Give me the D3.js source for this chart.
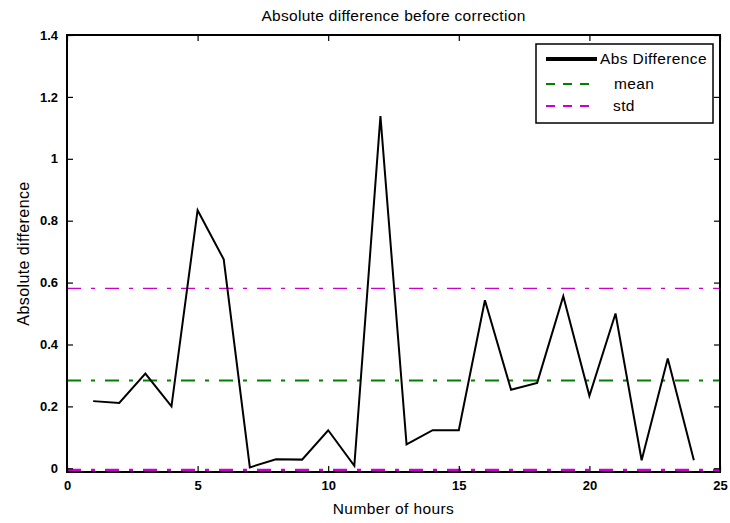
<!DOCTYPE html>
<html>
<head>
<meta charset="utf-8">
<script src="https://cdnjs.cloudflare.com/ajax/libs/d3/7.8.5/d3.min.js"></script>
<style>
  body { margin: 0; background: #fff; }
  text { font-family: "Liberation Sans", Arial, sans-serif; }
</style>
</head>
<body>
<svg id="chart" width="730" height="523"></svg>
<script>
// data
const hours = [1,2,3,4,5,6,7,8,9,10,11,12,13,14,15,16,17,18,19,20,21,22,23,24];
const absDiff = [0.217,0.211,0.306,0.20,0.834,0.675,0.003,0.029,0.028,0.123,0.008,1.138,
                 0.077,0.123,0.123,0.543,0.254,0.276,0.556,0.234,0.50,0.026,0.355,0.026];
const meanVal = 0.284;
const stdVal = 0.581;
const lowLine = -0.006;
const xTicks = [0,5,10,15,20,25];
const yTicks = [0,0.2,0.4,0.6,0.8,1,1.2,1.4];
const legendItems = [
    {label: "Abs Difference", color: "#000", dash: null, w: 4, tx: 600},
    {label: "mean", color: "#008000", dash: "9,8", w: 2, tx: 614},
    {label: "std", color: "#cc00cc", dash: "9,8", w: 2, tx: 613}
];

const svg = d3.select("#chart");
const L = 67, R = 720, T = 35, B = 472;
const labelFont = 15.5;

const x = d3.scaleLinear().domain([0, 25]).range([L, R]);
const y = d3.scaleLinear().domain([-0.012, 1.4]).range([B, T]);

svg.append("defs").append("clipPath").attr("id", "clip")
    .append("rect").attr("x", L).attr("y", T).attr("width", R - L).attr("height", B - T + 1);

const plot = svg.append("g").attr("clip-path", "url(#clip)");

// horizontal reference lines
plot.append("line")
    .attr("x1", L).attr("x2", R)
    .attr("y1", y(stdVal)).attr("y2", y(stdVal))
    .attr("stroke", "#cc00cc").attr("stroke-width", 1.2)
    .attr("stroke-dasharray", "14,10,4,10");

plot.append("line")
    .attr("x1", L).attr("x2", R)
    .attr("y1", y(meanVal)).attr("y2", y(meanVal))
    .attr("stroke", "#008000").attr("stroke-width", 2)
    .attr("stroke-dasharray", "14,10,4,10");

plot.append("line")
    .attr("x1", L).attr("x2", R)
    .attr("y1", y(lowLine)).attr("y2", y(lowLine))
    .attr("stroke", "#cc00cc").attr("stroke-width", 3)
    .attr("stroke-dasharray", "14,10,4,10");

// abs difference line
const line = d3.line()
    .x((d, i) => x(hours[i]))
    .y(d => y(d));

plot.append("path")
    .datum(absDiff)
    .attr("fill", "none")
    .attr("stroke", "#000")
    .attr("stroke-width", 2)
    .attr("d", line);

// axes (ticks pointing inward, MATLAB style)
const xAxis = svg.append("g").attr("transform", `translate(0,${B})`)
    .call(d3.axisBottom(x).tickValues(xTicks).tickFormat(d3.format("d")).tickSizeInner(-6).tickSizeOuter(0).tickPadding(9));
const xTop = svg.append("g").attr("transform", `translate(0,${T})`)
    .call(d3.axisTop(x).tickValues(xTicks).tickFormat("").tickSizeInner(-6).tickSizeOuter(0));
const yAxis = svg.append("g").attr("transform", `translate(${L},0)`)
    .call(d3.axisLeft(y).tickValues(yTicks).tickFormat(d => d3.format("")(+d.toFixed(1))).tickSizeInner(-6).tickSizeOuter(0).tickPadding(9));
const yRight = svg.append("g").attr("transform", `translate(${R},0)`)
    .call(d3.axisRight(y).tickValues(yTicks).tickFormat("").tickSizeInner(-6).tickSizeOuter(0));

[xAxis, xTop, yAxis, yRight].forEach(g => {
    g.select(".domain").remove();
    g.selectAll(".tick line").attr("stroke", "#000").attr("stroke-width", 1.2);
    g.selectAll("text").attr("font-size", 13).attr("font-weight", "bold").attr("fill", "#000");
});

// frame
svg.append("rect")
    .attr("x", L).attr("y", T).attr("width", R - L).attr("height", B - T)
    .attr("fill", "none").attr("stroke", "#000").attr("stroke-width", 2);

// title and axis labels
svg.append("text")
    .attr("x", (L + R) / 2).attr("y", 21)
    .attr("text-anchor", "middle").attr("font-size", labelFont)
    .attr("letter-spacing", 0.3)
    .text("Absolute difference before correction");

svg.append("text")
    .attr("x", (L + R) / 2).attr("y", 514)
    .attr("text-anchor", "middle").attr("font-size", labelFont)
    .attr("letter-spacing", 0.4)
    .text("Number of hours");

svg.append("text")
    .attr("transform", `translate(29,${(T + B) / 2}) rotate(-90)`)
    .attr("text-anchor", "middle").attr("font-size", 16)
    .attr("letter-spacing", 0.4)
    .text("Absolute difference");

// legend
const leg = svg.append("g");
leg.append("rect")
    .attr("x", 536).attr("y", 44).attr("width", 177).attr("height", 79)
    .attr("fill", "#fff").attr("stroke", "#000").attr("stroke-width", 1.5);

const rows = leg.selectAll("g.row")
    .data(legendItems)
    .enter()
    .append("g")
    .attr("class", "row")
    .attr("transform", (d, i) => `translate(0,${[59, 84, 106][i]})`);

rows.append("line")
    .attr("x1", 546).attr("x2", 597)
    .attr("stroke", d => d.color)
    .attr("stroke-width", d => d.w)
    .attr("stroke-dasharray", d => d.dash);

rows.append("text")
    .attr("x", d => d.tx).attr("y", 5)
    .attr("font-size", labelFont)
    .attr("letter-spacing", 0.4)
    .text(d => d.label);
</script>
</body>
</html>
